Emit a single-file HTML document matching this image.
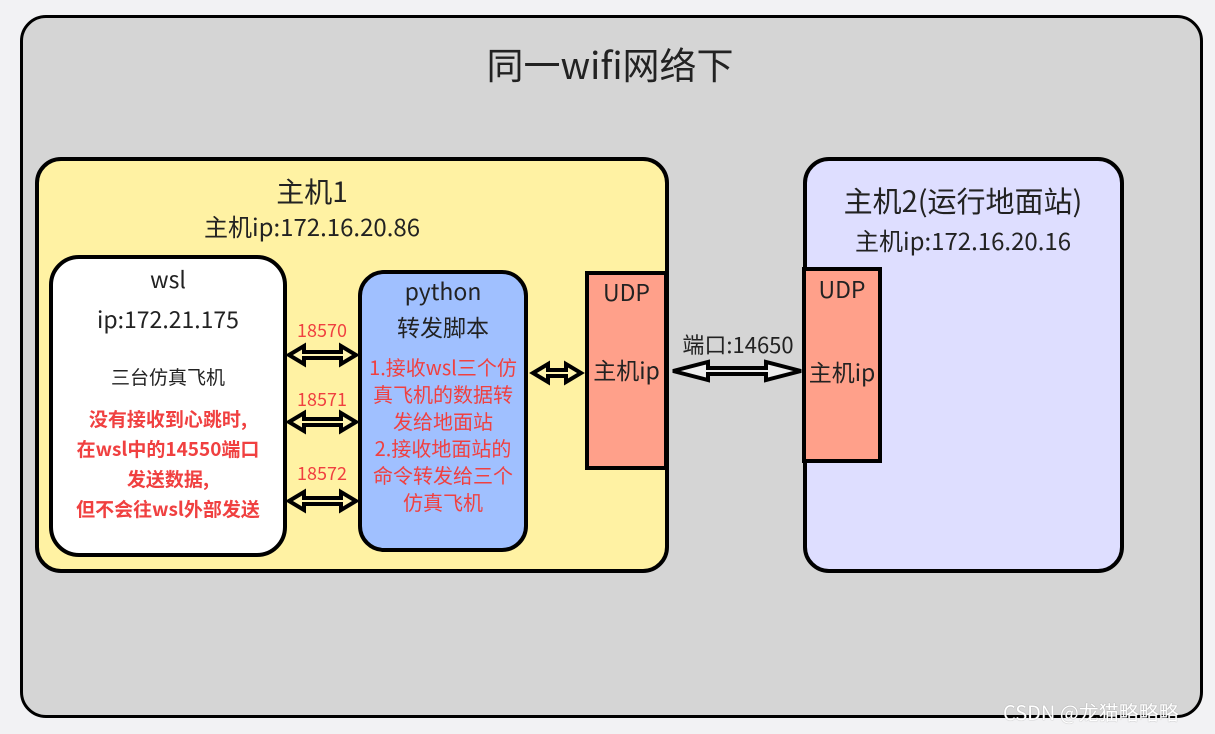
<!DOCTYPE html>
<html><head><meta charset="utf-8"><style>
body{margin:0;width:1215px;height:734px;background:#f2f2f4;position:relative;overflow:hidden;font-family:"Noto Sans CJK SC","Liberation Sans",sans-serif;color:#222}
.b{position:absolute;box-sizing:border-box;border:4px solid #000}
.t{position:absolute;white-space:nowrap;text-align:center;line-height:1.2}
.r{color:#f04040}
</style></head><body>
<div class="b" style="left:20px;top:15px;width:1183px;height:703px;border-radius:26px;background:#d5d5d5;border-width:3px"></div>
<div class="t" style="left:410px;width:400px;top:41px;font-size:37px">同一wifi网络下</div>
<div class="b" style="left:35px;top:157px;width:634px;height:416px;border-radius:26px;background:#fff2a3"></div>
<div class="t" style="left:212px;width:200px;top:175px;font-size:28px">主机1</div>
<div class="t" style="left:162px;width:300px;top:212px;font-size:24px">主机ip:172.16.20.86</div>
<div class="b" style="left:803px;top:157px;width:321px;height:416px;border-radius:26px;background:#dedeff"></div>
<div class="t" style="left:813px;width:300px;top:183px;font-size:29px">主机2(运行地面站)</div>
<div class="t" style="left:813px;width:300px;top:226px;font-size:24px">主机ip:172.16.20.16</div>
<div class="b" style="left:49px;top:255px;width:238px;height:302px;border-radius:30px;background:#fff"></div>
<div class="t" style="left:49px;width:238px;top:265px;font-size:23px">wsl</div>
<div class="t" style="left:49px;width:238px;top:305px;font-size:23px">ip:172.21.175</div>
<div class="t" style="left:49px;width:238px;top:366px;font-size:19px">三台仿真飞机</div>
<div class="t r" style="left:49px;width:238px;top:404px;font-size:19px;font-weight:bold;line-height:30px">没有接收到心跳时,<br>在wsl中的14550端口<br>发送数据,<br>但不会往wsl外部发送</div>
<div class="b" style="left:358px;top:270px;width:170px;height:282px;border-radius:26px;background:#a0c0ff"></div>
<div class="t" style="left:358px;width:170px;top:277px;font-size:23px">python</div>
<div class="t" style="left:358px;width:170px;top:313px;font-size:23px">转发脚本</div>
<div class="t r" style="left:358px;width:170px;top:353px;font-size:20px;line-height:27px">1.接收wsl三个仿<br>真飞机的数据转<br>发给地面站<br>2.接收地面站的<br>命令转发给三个<br>仿真飞机</div>
<div class="b" style="left:585px;top:271px;width:83px;height:199px;background:#ffa08a"></div>
<div class="t" style="left:585px;width:83px;top:278px;font-size:23px">UDP</div>
<div class="t" style="left:585px;width:83px;top:356px;font-size:23px">主机ip</div>
<div class="b" style="left:802px;top:267px;width:80px;height:196px;background:#ffa08a"></div>
<div class="t" style="left:802px;width:80px;top:275px;font-size:23px">UDP</div>
<div class="t" style="left:802px;width:80px;top:358px;font-size:23px">主机ip</div>
<div class="t r" style="left:286px;width:72px;top:320px;font-size:18px">18570</div>
<div class="t r" style="left:286px;width:72px;top:389px;font-size:18px">18571</div>
<div class="t r" style="left:286px;width:72px;top:463px;font-size:18px">18572</div>
<div class="t" style="left:668px;width:140px;top:331px;font-size:22px">端口:14650</div>
<svg style="position:absolute;left:0;top:0" width="1215" height="734">
<g fill="#fff4b0" stroke="#000" stroke-width="4" stroke-linejoin="miter">
<polygon points="289,355 304,346 304,352 341,352 341,346 356,355 341,364 341,358 304,358 304,364"/>
<polygon points="289,422 304,413 304,419 341,419 341,413 356,422 341,431 341,425 304,425 304,431"/>
<polygon points="289,501 304,492 304,498 341,498 341,492 356,501 341,510 341,504 304,504 304,510"/>
<polygon points="533,373 548,364 548,370 566,370 566,364 581,373 566,382 566,376 548,376 548,382"/>
<polygon points="673,371 708,362 708,368 766,368 766,362 801,371 766,380 766,374 708,374 708,380" fill="#eee"/>
</g>
</svg>
<div class="t" style="left:1003px;top:700px;font-size:20px;color:#fff;text-shadow:0 0 1px #888">CSDN @龙猫略略略</div>
</body></html>
